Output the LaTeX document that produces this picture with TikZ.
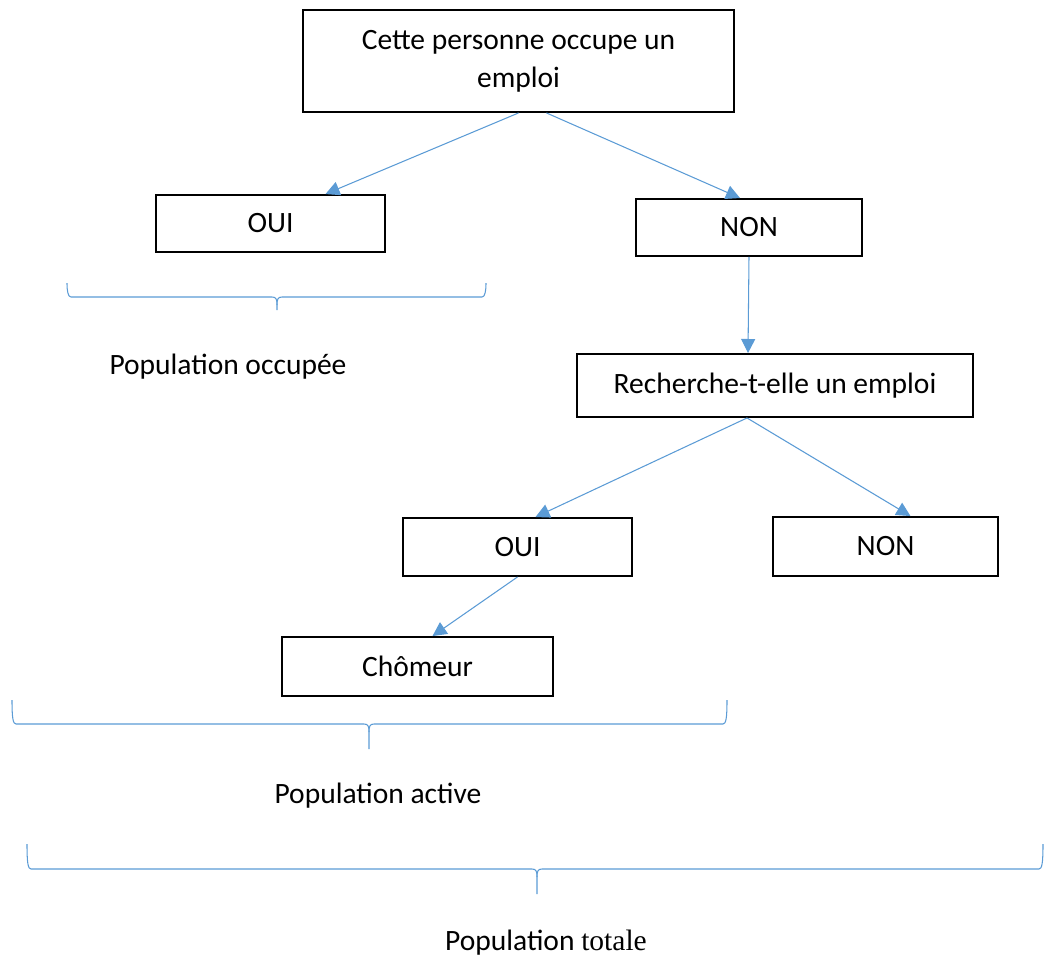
\documentclass[tikz,border=0pt]{standalone}
\usepackage{fontspec}
\setmainfont{Carlito}
\newfontfamily\timesfont{Liberation Serif}
\usetikzlibrary{arrows.meta}
\definecolor{bleu}{RGB}{91,155,213}

% accolade : x gauche, x droite, x pointe, y haut, y trait, y pointe
\newcommand{\accolade}[6]{%
  \draw[accol] (#1,#4) .. controls (#1,#5-6) and (#1+1,#5) .. (#1+4,#5) -- (#3-5,#5)
    .. controls (#3-1,#5) and (#3,#5+2) .. (#3,#5+8) -- (#3,#6);
  \draw[accol] (#2,#4) .. controls (#2,#5-6) and (#2-1,#5) .. (#2-4,#5) -- (#3+5,#5)
    .. controls (#3+1,#5) and (#3,#5+2) .. (#3,#5+8);}

\begin{document}
\begin{tikzpicture}[x=0.02cm, y=-0.02cm,
  boite/.style = {draw, line width=1.1pt, align=center, inner sep=0pt,
    font=\fontsize{16.8}{21.5}\selectfont},
  fleche/.style = {draw=bleu, line width=0.6pt, -{Triangle[length=8pt, width=8pt]}},
  accol/.style = {draw=bleu, line width=0.6pt},
  legende/.style = {font=\fontsize{16.8}{21.5}\selectfont}]
  \useasboundingbox (0,0) rectangle (1045,958);

  \node[boite, minimum width=8.62cm, minimum height=2.04cm] (emploi) at (518.5,61)
    {Cette personne occupe un\\emploi};
  \node[boite, minimum width=4.58cm, minimum height=1.14cm] (oui) at (270.5,223.5) {OUI};
  \node[boite, minimum width=4.52cm, minimum height=1.14cm] (non) at (749,227.5) {NON};
  \node[boite, minimum width=7.92cm, minimum height=1.26cm] (recherche) at (775,385.5)
    {Recherche-t-elle un emploi};
  \node[boite, minimum width=4.58cm, minimum height=1.16cm] (ouiRech) at (517.5,547) {OUI};
  \node[boite, minimum width=4.5cm, minimum height=1.18cm] (nonRech) at (885.5,546.5) {NON};
  \node[boite, minimum width=5.42cm, minimum height=1.18cm] (chomeur) at (417.5,666.5) {Chômeur};

  \draw[fleche] (emploi.south) -- ([xshift=1.1cm]oui.north);
  \draw[fleche] ([xshift=0.56cm]emploi.south) -- ([xshift=-0.18cm]non.north);
  \draw[fleche] (non.south) -- ([xshift=-0.54cm]recherche.north);
  \draw[fleche] ([xshift=-0.56cm]recherche.south) -- ([xshift=0.36cm]ouiRech.north);
  \draw[fleche] ([xshift=-0.56cm]recherche.south) -- ([xshift=0.5cm]nonRech.north);
  \draw[fleche] (ouiRech.south) -- ([xshift=0.3cm]chomeur.north);

  \accolade{67}{486}{277}{283}{297}{310}
  \accolade{12}{727}{369}{700}{724}{749}
  \accolade{27}{1043}{537}{844}{869}{894}

  \node[legende] (occupee) at (228,367) {Population occupée};
  \node[legende] (active) at (378,796) {Population active};
  \node[legende] (totale) at (546,943) {Population {\timesfont totale}};
\end{tikzpicture}
\end{document}
